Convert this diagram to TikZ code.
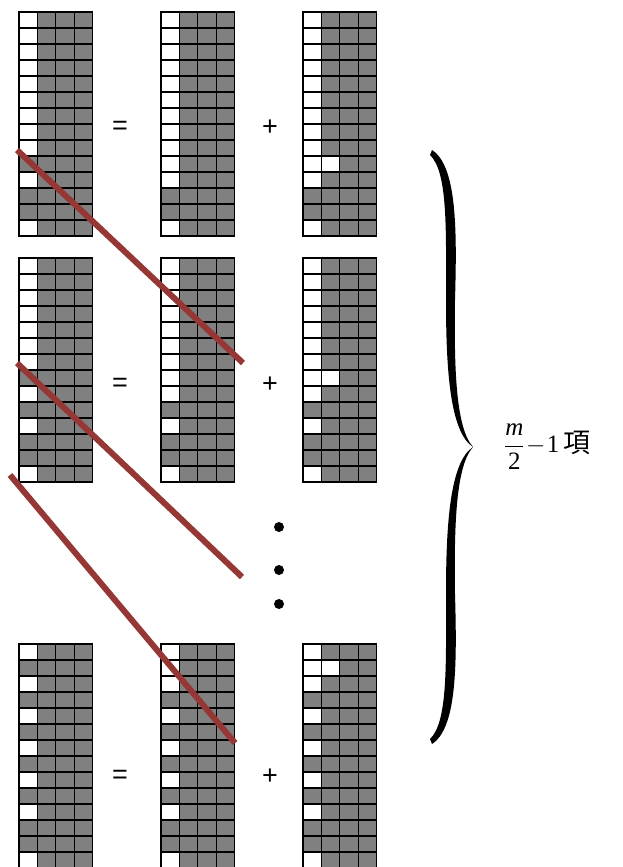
\documentclass[tikz,border=0pt]{standalone}
\usepackage{amsmath}
\usepackage{fontspec}
\setmainfont{Liberation Serif}
\newfontfamily\signfont{Liberation Sans}
\newfontfamily\cjkfont{Noto Sans CJK TC}
\definecolor{cellgray}{HTML}{808080}
\definecolor{slashred}{HTML}{953735}
\tikzset{
  gridline/.style={black, line width=1.3pt},
  slash/.style={slashred, line width=6pt},
  signtext/.style={font=\signfont\fontsize{27}{30}\selectfont, inner sep=0pt},
  dotmark/.style={circle, fill=black, minimum size=10pt, inner sep=0pt},
}
\def\cw{18.4}
\def\ch{16}
% #1 x, #2 y, #3 white rows of column 0, #4 extra white cells c/r
\newcommand\drawgrid[4]{%
  \fill[cellgray] (#1,#2) rectangle ++(4*\cw,14*\ch);
  \foreach \r in {#3} \fill[white] (#1,#2+\r*\ch) rectangle ++(\cw,\ch);
  \foreach \c/\r in {#4} \fill[white] (#1+\c*\cw,#2+\r*\ch) rectangle ++(\cw,\ch);
  \foreach \i in {0,...,4} \draw[gridline] (#1+\i*\cw,#2) -- ++(0,14*\ch);
  \foreach \j in {0,...,14} \draw[gridline] (#1-0.65,#2+\j*\ch) -- ++(4*\cw+1.3,0);
}
\begin{document}
\begin{tikzpicture}[x=1pt,y=-1pt]
\useasboundingbox (0,0) rectangle (622,867);
\fill[white] (0,0) rectangle (622,867);
% group 1
\drawgrid{19}{12}{0,...,8,10,13}{0/0}
\drawgrid{161}{12}{0,...,10,13}{0/0}
\drawgrid{303}{12}{0,...,10,13}{1/9}
% group 2
\drawgrid{19}{258}{0,...,6,8,10,13}{0/0}
\drawgrid{161}{258}{0,...,8,10,13}{0/0}
\drawgrid{303}{258}{0,...,8,10,13}{1/7}
% group 3
\drawgrid{19}{644}{0,2,4,6,8,10,13}{0/0}
\drawgrid{161}{644}{0,1,2,4,6,8,10,13}{0/0}
\drawgrid{303}{644}{0,1,2,4,6,8,10,13}{1/1}
% signs
\node[signtext] (eq1) at (120,128) {=};
\node[signtext] (pl1) at (270,128) {+};
\node[signtext] (eq2) at (120,385) {=};
\node[signtext] (pl2) at (270,385) {+};
\node[signtext] (eq3) at (120,777) {=};
\node[signtext] (pl3) at (270,777) {+};
% dots
\node[dotmark] (d1) at (279,527) {};
\node[dotmark] (d2) at (279,570) {};
\node[dotmark] (d3) at (279,604) {};
% red slashes
\coordinate (s1a) at (17,150);  \coordinate (s1b) at (243,363);
\coordinate (s2a) at (17,363);  \coordinate (s2b) at (242,577);
\coordinate (s3a) at (10,475);  \coordinate (s3b) at (235,743);
\draw[slash] (s1a) -- (s1b);
\draw[slash] (s2a) -- (s2b);
\draw[slash] (s3a) -- (s3b);
% brace
\begin{scope}[shift={(473,447)}]
  \fill[black] (-41,-297) .. controls (-16,-281) and (-16,-217) .. (-18,-147)
     .. controls (-19,-77) and (-17,-19) .. (0,0)
     .. controls (-23,-15) and (-27,-77) .. (-27,-147)
     .. controls (-27,-217) and (-25,-275) .. (-43,-292) -- cycle;
  \begin{scope}[yscale=-1]
  \fill[black] (-41,-297) .. controls (-16,-281) and (-16,-217) .. (-18,-147)
     .. controls (-19,-77) and (-17,-19) .. (0,0)
     .. controls (-23,-15) and (-27,-77) .. (-27,-147)
     .. controls (-27,-217) and (-25,-275) .. (-43,-292) -- cycle;
  \end{scope}
\end{scope}
% label
\node[anchor=west, inner sep=0pt, font=\fontsize{25}{29}\selectfont] (lbl) at (504,447)
  {$\dfrac{\textit{m}}{\textrm{2}}\mkern-3mu-\mkern-3mu\textrm{1}$\,{\cjkfont\fontsize{27}{29}\selectfont 項}};
\end{tikzpicture}
\end{document}
